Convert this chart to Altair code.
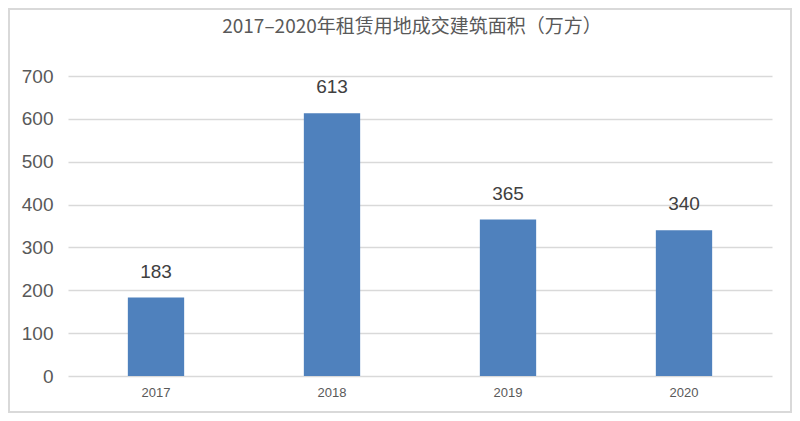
import altair as alt
import pandas as pd

years = ["2017", "2018", "2019", "2020"]
areas = [183, 613, 365, 340]

df = pd.DataFrame({"year": years, "area": areas})

W, H = 704, 300
PL, PT, PR, PB = 60, 68, 20, 37

base = alt.Chart(df).encode(
    x=alt.X("year:N", sort=years, title=None,
            scale=alt.Scale(paddingInner=0.68, paddingOuter=0.34),
            axis=alt.Axis(labelAngle=0, ticks=False, domain=False,
                          labelFont="Liberation Sans", labelFontSize=13,
                          labelColor="#595959", labelPadding=10)),
    y=alt.Y("area:Q", title=None,
            scale=alt.Scale(domain=[0, 700], nice=False),
            axis=alt.Axis(values=[0, 100, 200, 300, 400, 500, 600, 700],
                          ticks=False, domain=False, grid=True,
                          gridColor="#d9d9d9", gridWidth=1.5,
                          labelFont="Liberation Sans", labelFontSize=19,
                          labelColor="#595959", labelPadding=15)),
)

bars = base.mark_bar(color="#4f81bd")
labels = base.mark_text(baseline="alphabetic", dy=-20, font="Liberation Sans",
                        fontSize=19, color="#404040").encode(text="area:Q")

border = alt.Chart(pd.DataFrame({"a": [0]})).mark_rect(
    filled=False, stroke="#d9d9d9", strokeWidth=2).encode(
    x=alt.value(-PL + 1), x2=alt.value(W + PR - 1),
    y=alt.value(-PT + 1), y2=alt.value(H + PB - 1))

chart = alt.layer(bars, labels, border).properties(
    width=W, height=H,
    autosize=alt.AutoSizeParams(type="none"),
    padding={"left": PL, "top": PT, "right": PR, "bottom": PB},
    title=alt.TitleParams("2017–2020年租赁用地成交建筑面积（万方）",
                          font="Noto Sans CJK SC", fontSize=19,
                          fontWeight="normal", color="#595959",
                          anchor="middle", offset=-29, dx=-8),
).configure_view(stroke=None)

chart.save("out.html", embed_options={"renderer": "svg", "actions": False})
